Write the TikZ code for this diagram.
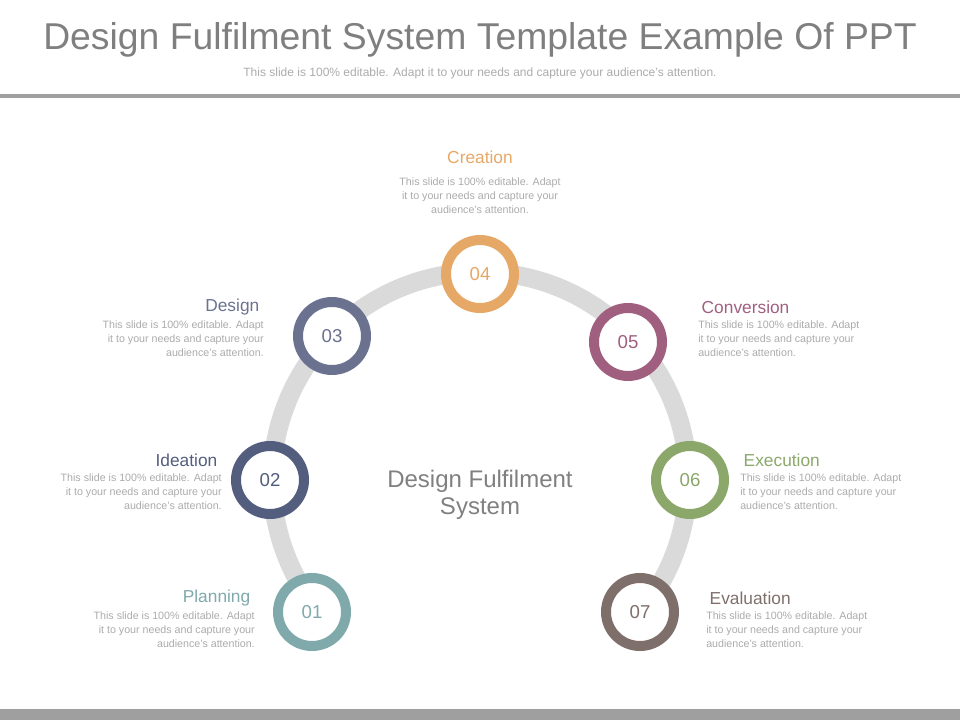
\documentclass[tikz,border=0pt]{standalone}
\usepackage{fontspec}
\setmainfont{Liberation Sans}
\definecolor{cPlan}{HTML}{7FA9AB}
\definecolor{cIdea}{HTML}{535D7E}
\definecolor{cDes}{HTML}{6A7290}
\definecolor{cCrea}{HTML}{E6A867}
\definecolor{cConv}{HTML}{A05F7F}
\definecolor{cExec}{HTML}{8BA86A}
\definecolor{cEval}{HTML}{7E6F6B}
\definecolor{txtgray}{HTML}{ABABAB}
\definecolor{trackgray}{HTML}{DADADA}
\tikzset{
  stepring/.style={circle,minimum size=51pt,line width=7.5pt,draw=#1,fill=white,
    text=#1,font=\fontsize{14}{14}\selectfont,inner sep=0pt},
  headl/.style={font=\fontsize{13}{13}\selectfont,text=#1},
  bodyl/.style={font=\fontsize{8}{10.5}\selectfont,text=txtgray,inner sep=0pt},
}
\newcommand\bodytext{This slide is 100\% editable. Adapt\\it to your needs and capture your\\audience's attention.}
\begin{document}
\begin{tikzpicture}[x=0.75pt,y=-0.75pt]
\useasboundingbox (0,0) rectangle (960,720);
% header
\node (title) at (480,40) {\fontsize{28}{28}\selectfont\color[HTML]{7F7F7F}Design Fulfilment System Template Example Of PPT};
\node (sub) at (480,73) {\fontsize{9}{9}\selectfont\color{txtgray}This slide is 100\% editable. Adapt it to your needs and capture your audience's attention.};
\fill[gray!75] (0,94) rectangle (960,98);
\fill[gray!75] (0,709) rectangle (960,720);
% track
\draw[trackgray,line width=14pt] (480,480) ++(141:208) arc[start angle=141,end angle=399,radius=208];
\node[font=\fontsize{18}{20}\selectfont,text=gray,align=center] (center) at (480,495) {Design Fulfilment\\System};
% rings
\node[stepring=cPlan] (s1) at (312,612) {01};
\node[stepring=cIdea] (s2) at (270,480) {02};
\node[stepring=cDes]  (s3) at (332,336) {03};
\node[stepring=cCrea] (s4) at (480,274) {04};
\node[stepring=cConv] (s5) at (628,342) {05};
\node[stepring=cExec] (s6) at (690,480) {06};
\node[stepring=cEval] (s7) at (640,612) {07};
% labels left
\node[headl=cPlan,anchor=east] (h1) at (255,598) {Planning};
\node[bodyl,align=right,anchor=north east] (b1) at (255,612) {\bodytext};
\node[headl=cIdea,anchor=east] (h2) at (222,460) {Ideation};
\node[bodyl,align=right,anchor=north east] (b2) at (222,474) {\bodytext};
\node[headl=cDes,anchor=east] (h3) at (264,307) {Design};
\node[bodyl,align=right,anchor=north east] (b3) at (264,321) {\bodytext};
% top
\node[headl=cCrea] (h4) at (480,157) {Creation};
\node[bodyl,align=center,anchor=north] (b4) at (480,178) {\bodytext};
% labels right
\node[headl=cConv,anchor=west] (h5) at (697,307) {Conversion};
\node[bodyl,align=left,anchor=north west] (b5) at (698,321) {\bodytext};
\node[headl=cExec,anchor=west] (h6) at (739,460) {Execution};
\node[bodyl,align=left,anchor=north west] (b6) at (740,474) {\bodytext};
\node[headl=cEval,anchor=west] (h7) at (705,598) {Evaluation};
\node[bodyl,align=left,anchor=north west] (b7) at (706,612) {\bodytext};
\end{tikzpicture}
\end{document}
